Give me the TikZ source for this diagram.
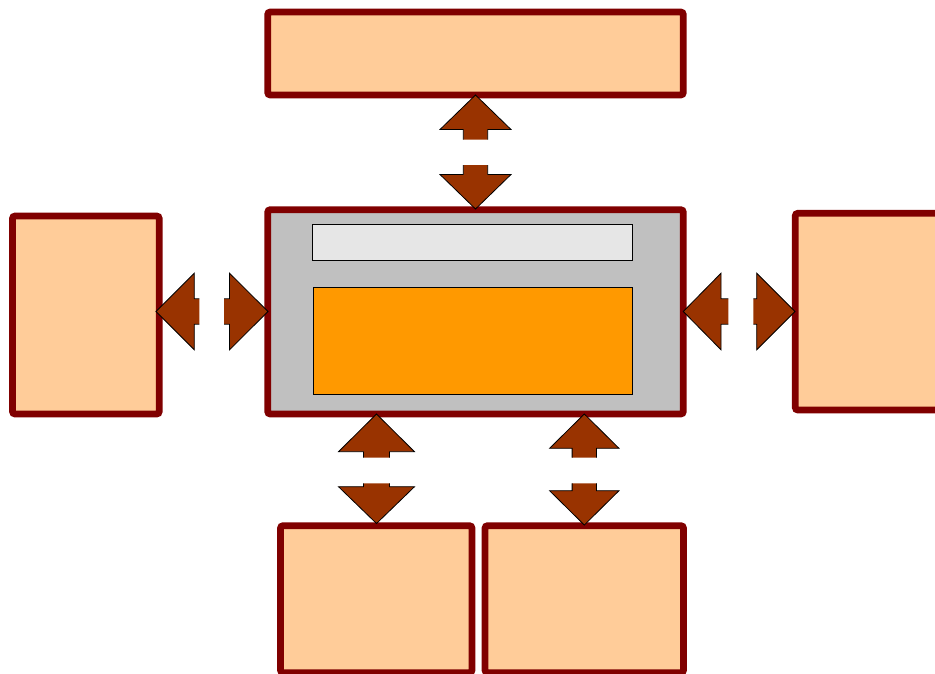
\documentclass[tikz,border=0pt]{standalone}
\definecolor{boxline}{HTML}{800000}
\definecolor{boxfill}{HTML}{FFCC99}
\definecolor{arrbrown}{HTML}{993300}
\definecolor{midgray}{HTML}{C0C0C0}
\definecolor{lightgray2}{HTML}{E6E6E6}
\definecolor{orange2}{HTML}{FF9900}
\tikzset{
  box/.style={draw=boxline, fill=boxfill, line width=6.7pt, rounded corners=2.5pt, inner sep=0pt, outer sep=0pt, anchor=north west},
  centerbox/.style={box, fill=midgray},
  innerbox/.style={draw=black, line width=0.9pt, inner sep=0pt, outer sep=0pt, anchor=north west},
  arrfill/.style={fill=arrbrown},
  arrline/.style={draw=black, line width=0.8pt, line join=miter}
}
% vertical half-arrow: cx, tip y, wing y, stem end y, half width, stem half width
\newcommand{\arrV}[6]{%
  \fill[arrfill] (#1,#2) -- ({#1+#5},#3) -- ({#1+#6},#3) -- ({#1+#6},#4) -- ({#1-#6},#4) -- ({#1-#6},#3) -- ({#1-#5},#3) -- cycle;
  \draw[arrline] ({#1+#6},#4) -- ({#1+#6},#3) -- ({#1+#5},#3) -- (#1,#2) -- ({#1-#5},#3) -- ({#1-#6},#3) -- ({#1-#6},#4);}
% horizontal half-arrow: cy, tip x, wing x, stem end x, half width, stem half width
\newcommand{\arrH}[6]{%
  \fill[arrfill] (#2,#1) -- (#3,{#1+#5}) -- (#3,{#1+#6}) -- (#4,{#1+#6}) -- (#4,{#1-#6}) -- (#3,{#1-#6}) -- (#3,{#1-#5}) -- cycle;
  \draw[arrline] (#4,{#1+#6}) -- (#3,{#1+#6}) -- (#3,{#1+#5}) -- (#2,#1) -- (#3,{#1-#5}) -- (#3,{#1-#6}) -- (#4,{#1-#6});}
\begin{document}
\begin{tikzpicture}[x=1pt,y=-1pt]
\useasboundingbox (0,0) rectangle (935,673);
\fill[white] (0,0) rectangle (935,673);
% boxes
\node[box, minimum width=415.6pt, minimum height=83pt] (top) at (267.7,12) {};
\node[centerbox, minimum width=415.6pt, minimum height=204.3pt] (center) at (267.7,209.7) {};
\node[innerbox, fill=lightgray2, minimum width=319.7pt, minimum height=36.4pt] (bar) at (312.5,224.3) {};
\node[innerbox, fill=orange2, minimum width=319pt, minimum height=107pt] (panel) at (313,287) {};
\node[box, minimum width=146.7pt, minimum height=198pt] (left) at (12.5,216) {};
\node[box, minimum width=160pt, minimum height=196.7pt] (right) at (795.3,213.3) {};
\node[box, minimum width=191.5pt, minimum height=147pt] (botleft) at (280.5,525.7) {};
\node[box, minimum width=198.5pt, minimum height=147pt] (botright) at (485,525.7) {};
% arrows top
\arrV{475.5}{95}{129.5}{139.5}{35.5}{12.2}
\arrV{475.5}{209}{174.5}{165}{35.5}{12.2}
% arrows left
\arrH{311.5}{156}{194.3}{199.3}{38.3}{12.7}
\arrH{311.5}{268}{229.5}{224}{38.3}{12.7}
% arrows right
\arrH{311.5}{683.3}{721}{728.3}{38.3}{12.7}
\arrH{311.5}{795}{756.7}{753.3}{38.3}{12.7}
% arrows bottom left
\arrV{376.5}{414}{451.7}{457.7}{38}{13}
\arrV{376.5}{523.5}{486.7}{483.3}{38}{13}
% arrows bottom right
\arrV{584.3}{414}{448.3}{457.7}{34.7}{12.2}
\arrV{584.3}{525}{490.7}{483.3}{34.7}{12.2}
\end{tikzpicture}
\end{document}
